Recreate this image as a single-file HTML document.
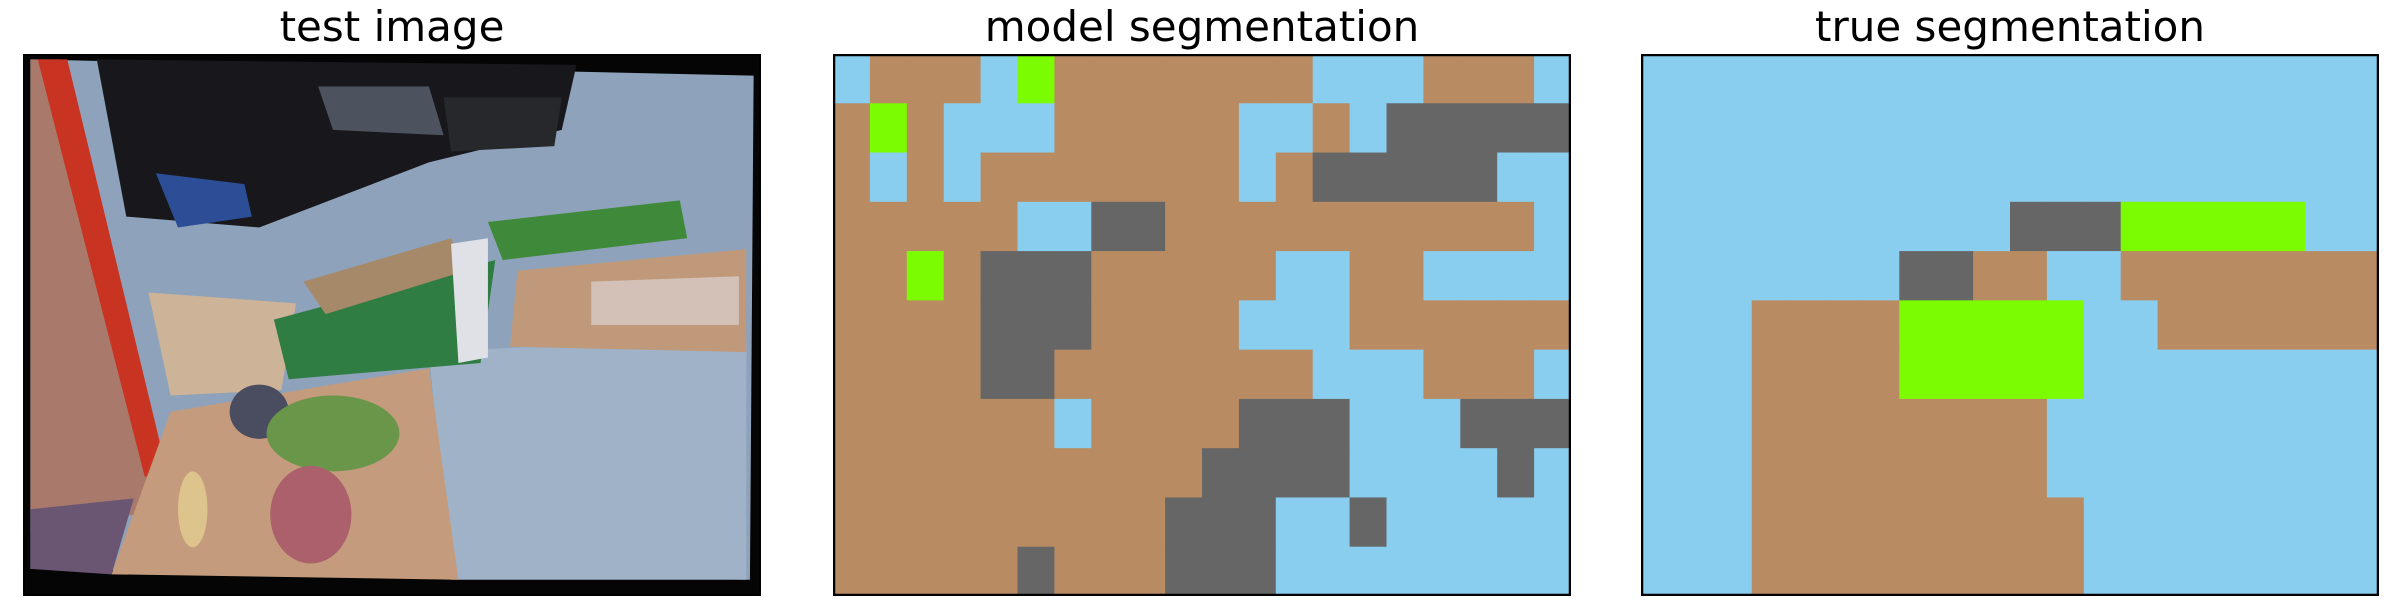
<!DOCTYPE html>
<html><head><meta charset="utf-8"><style>
body{margin:0;width:2400px;height:600px;background:#fff;overflow:hidden;font-family:"DejaVu Sans","Liberation Sans",sans-serif;}
.title{position:absolute;top:2px;height:50px;font-size:42px;text-align:center;color:#000;line-height:50px;}
.panel{position:absolute;top:54px;width:738px;height:542px;box-sizing:border-box;}
svg{position:absolute;left:0;top:0;}
</style></head><body>
<div class="title" style="left:23px;width:738px;">test image</div>
<div class="title" style="left:833px;width:738px;">model segmentation</div>
<div class="title" style="left:1641px;width:738px;">true segmentation</div>

<div class="panel" style="left:23px;">
<svg width="738" height="542" viewBox="0 0 100 100" preserveAspectRatio="none">
<rect x="0" y="0" width="100" height="100" fill="#050505"/>
<polygon points="1,1 99,4 98.5,97 1,95" fill="#8ea3bb"/>
<polygon points="55,55 98,52 98,97 58,97" fill="#9fb2c8"/>
<polygon points="10,1 75,2 73,14 55,20 32,32 14,30" fill="#18181c"/>
<polygon points="40,6 55,6 57,15 42,14" fill="#4c535e"/>
<polygon points="57,8 73,8 72,17 58,18" fill="#26282c"/>
<polygon points="18,22 30,24 31,30 21,32" fill="#2c4e96"/>
<polygon points="1,1 5,1 18,80 15,85 1,88" fill="#a9796c"/>
<polygon points="2,1 6,1 19.5,77 16.5,78" fill="#c93322"/>
<polygon points="1,84 15,82 12,96 1,95" fill="#6a5673"/>
<polygon points="17,44 37,46 35,62 20,63" fill="#cdb397"/>
<polygon points="34,49 64,38 62,57 36,60" fill="#2f7d42"/>
<polygon points="63,31 89,27 90,34 65,38" fill="#3f8a3a"/>
<polygon points="38,42 58,34 60,40 41,48" fill="#a58968"/>
<polygon points="58,35 63,34 63,56 59,57" fill="#dfe1e6"/>
<polygon points="67,40 98,36 98,55 66,54" fill="#bf9979"/>
<polygon points="77,42 97,41 97,50 77,50" fill="#d3c1b8"/>
<polygon points="20,66 55,58 59,97 12,96" fill="#c49b7c"/>
<ellipse cx="32" cy="66" rx="4" ry="5" fill="#4a4c60"/>
<ellipse cx="42" cy="70" rx="9" ry="7" fill="#6a964a"/>
<ellipse cx="39" cy="85" rx="5.5" ry="9" fill="#ab606c"/>
<ellipse cx="23" cy="84" rx="2" ry="7" fill="#dcc48c"/>
</svg></div>

<div class="panel" style="left:833px;"><svg id="m" width="738" height="542"></svg></div>
<div class="panel" style="left:1641px;"><svg id="t" width="738" height="542"></svg></div>

<script>
const classColors = {S:'#89ceee', B:'#b88b63', G:'#666666', L:'#7cfc00'};
const modelRows = [
"SBBBSLBBBBBBBSSSBBBS",
"BLBSSSBBBBBSSBSGGGGG",
"BSBSBBBBBBBSBGGGGGSS",
"BBBBBSSGGBBBBBBBBBBS",
"BBLBGGGBBBBBSSBBSSSS",
"BBBBGGGBBBBSSSBBBBBB",
"BBBBGGBBBBBBBSSSBBBS",
"BBBBBBSBBBBGGGSSSGGG",
"BBBBBBBBBBGGGGSSSSGS",
"BBBBBBBBBGGGSSGSSSSS",
"BBBBBGBBBGGGSSSSSSSS"];
const trueRows = [
"SSSSSSSSSSSSSSSSSSSS",
"SSSSSSSSSSSSSSSSSSSS",
"SSSSSSSSSSSSSSSSSSSS",
"SSSSSSSSSSGGGLLLLLSS",
"SSSSSSSGGBBSSBBBBBBB",
"SSSBBBBLLLLLSSBBBBBB",
"SSSBBBBLLLLLSSSSSSSS",
"SSSBBBBBBBBSSSSSSSSS",
"SSSBBBBBBBBSSSSSSSSS",
"SSSBBBBBBBBBSSSSSSSS",
"SSSBBBBBBBBBSSSSSSSS"];
function draw(id, rows){
  const svg=document.getElementById(id);
  const W=738,H=542,nr=rows.length,nc=rows[0].length;
  const cw=W/nc,ch=H/nr;
  const ns='http://www.w3.org/2000/svg';
  rows.forEach((row,r)=>{[...row].forEach((c,k)=>{
    const el=document.createElementNS(ns,'rect');
    el.setAttribute('x',k*cw);el.setAttribute('y',r*ch);
    el.setAttribute('width',cw+0.6);el.setAttribute('height',ch+0.6);
    el.setAttribute('fill',classColors[c]);
    
    
    svg.appendChild(el);
  });});
  const b=document.createElementNS(ns,'rect');
  b.setAttribute('x',1);b.setAttribute('y',1);b.setAttribute('width',W-2);b.setAttribute('height',H-2);
  b.setAttribute('fill','none');b.setAttribute('stroke','#000');b.setAttribute('stroke-width',2.5);
  
  
  svg.appendChild(b);
}
draw('m',modelRows);
draw('t',trueRows);
</script>
<div style="position:absolute;left:23px;top:54px;width:738px;height:542px;border:2px solid #000;box-sizing:border-box;"></div>
</body></html>
